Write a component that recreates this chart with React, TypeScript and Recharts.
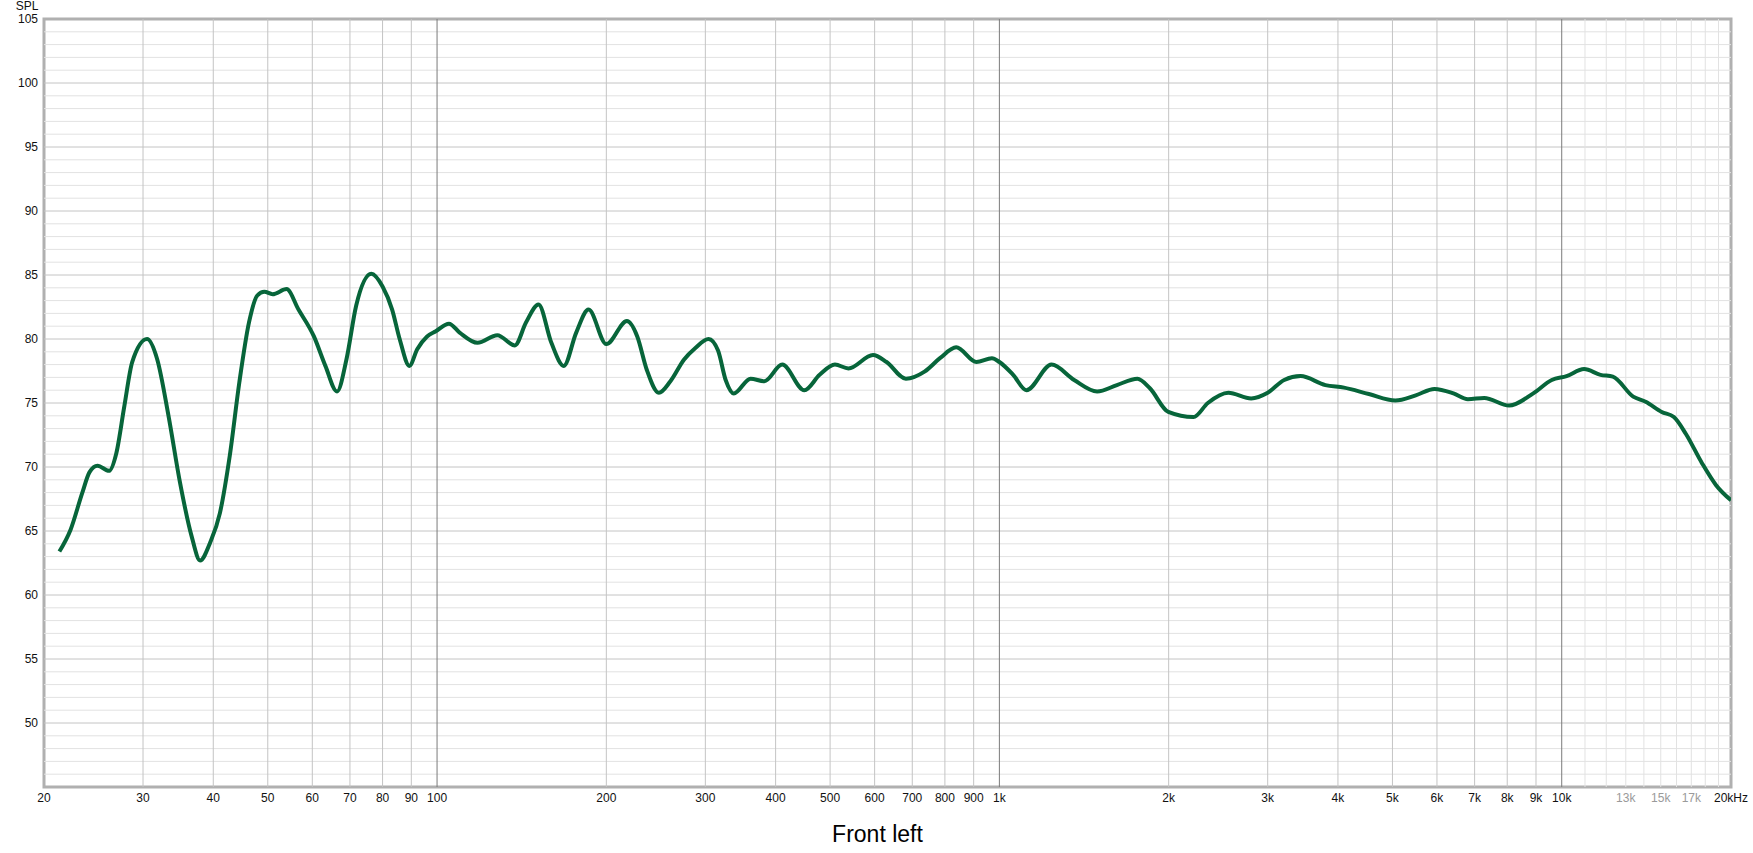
import {
  LineChart,
  Line,
  XAxis,
  YAxis,
  ReferenceLine,
  ReferenceArea,
} from 'recharts';

// measured response (Hz / dB SPL)
const freqHz = [
  21.3, 22.3, 23.4, 24.1, 24.9, 26.1, 26.9, 27.8, 28.7, 30.5, 31.8, 33.3, 34.9,
  36.6, 37.9, 39.5, 41.1, 42.8, 44.5, 46.3, 47.9, 49.3, 51, 54, 56.7, 60.4, 63.3,
  66.4, 69, 71.8, 76.4, 80, 83.2, 85.8, 89.3, 92.2, 96, 99.5, 105, 109.7, 118,
  128, 137.5, 144, 151.5, 159.7, 168, 176.8, 186, 200, 217.6, 227, 236, 248, 260,
  275, 288, 304, 316, 326, 337, 361, 382, 411, 450, 479, 510, 539, 596, 630, 682,
  736, 784, 838, 910, 970, 1000, 1058, 1117, 1238, 1358, 1492, 1618, 1760, 1852,
  1997, 2214, 2348, 2554, 2804, 3000, 3210, 3432, 3800, 4100, 4540, 5060, 5500,
  5940, 6420, 6810, 7280, 8060, 8900, 9600, 10200, 10960, 11720, 12330, 13400,
  14100, 15060, 15830, 16620, 17760, 18800, 20000,
];

const splDb = [
  63.4, 65.1, 68.0, 69.6, 70.1, 69.7, 71.1, 74.8, 78.2, 80.0, 78.4, 74.0, 68.8,
  64.6, 62.7, 64.1, 66.4, 70.9, 76.6, 81.3, 83.4, 83.7, 83.5, 83.9, 82.3, 80.2,
  77.9, 75.9, 78.4, 82.6, 85.1, 84.1, 82.3, 80.0, 77.9, 79.2, 80.2, 80.6, 81.2,
  80.5, 79.7, 80.3, 79.5, 81.3, 82.7, 79.7, 77.9, 80.5, 82.3, 79.6, 81.4, 80.2,
  77.6, 75.8, 76.7, 78.4, 79.3, 80.0, 79.1, 76.8, 75.75, 76.9, 76.7, 78.0, 76.0,
  77.2, 78.0, 77.7, 78.75, 78.2, 76.9, 77.45, 78.5, 79.35, 78.2, 78.5, 78.2, 77.2,
  76.0, 78.0, 76.8, 75.9, 76.4, 76.9, 76.15, 74.3, 73.9, 75.0, 75.8, 75.36, 75.8,
  76.8, 77.1, 76.4, 76.2, 75.7, 75.2, 75.6, 76.1, 75.75, 75.3, 75.4, 74.8, 75.75,
  76.8, 77.1, 77.65, 77.2, 77.06, 75.5, 75.1, 74.3, 73.9, 72.6, 70.3, 68.6, 67.4,
];

const freqTicks = [
  20, 30, 40, 50, 60, 70, 80, 90, 100, 200, 300, 400, 500, 600, 700, 800, 900,
  1000, 2000, 3000, 4000, 5000, 6000, 7000, 8000, 9000, 10000, 13000, 15000,
  17000, 20000,
];
const freqTickLabels = [
  '20', '30', '40', '50', '60', '70', '80', '90', '100', '200', '300', '400',
  '500', '600', '700', '800', '900', '1k', '2k', '3k', '4k', '5k', '6k', '7k',
  '8k', '9k', '10k', '13k', '15k', '17k', '20kHz',
];
const fadedTicks = [13000, 15000, 17000];

const splTicks = [50, 55, 60, 65, 70, 75, 80, 85, 90, 95, 100, 105];

// grid
const gridFreqMajor = [
  30, 40, 50, 60, 70, 80, 90, 200, 300, 400, 500, 600, 700, 800, 900, 2000, 3000,
  4000, 5000, 6000, 7000, 8000, 9000,
];
const gridFreqDecade = [100, 1000, 10000];
const gridFreqFine = [11000, 12000, 13000, 14000, 15000, 16000, 17000, 18000, 19000];
const gridSplMajor = [50, 55, 60, 65, 70, 75, 80, 85, 90, 95, 100];
const gridSplMinor = [
  46, 47, 48, 49, 51, 52, 53, 54, 56, 57, 58, 59, 61, 62, 63, 64, 66, 67, 68, 69,
  71, 72, 73, 74, 76, 77, 78, 79, 81, 82, 83, 84, 86, 87, 88, 89, 91, 92, 93, 94,
  96, 97, 98, 99, 101, 102, 103, 104,
];

const data = freqHz.map((f, i) => ({ f, spl: splDb[i] }));

const FONT = '"Liberation Sans", Arial, sans-serif';

const FreqTick = (props: any) => {
  const { x, y, payload } = props;
  const v = payload.value;
  const idx = freqTicks.indexOf(v);
  return (
    <text
      x={x}
      y={y}
      dy={11}
      textAnchor='middle'
      fontSize={12}
      fontFamily={FONT}
      fill={fadedTicks.includes(v) ? '#9a9a9a' : '#111'}
    >
      {idx >= 0 ? freqTickLabels[idx] : v}
    </text>
  );
};

const App = () => {
  return (
    <div style={{ position: 'absolute', left: 0, top: 0, background: '#fff' }}>
      <LineChart
        width={1753}
        height={853}
        data={data}
        margin={{ top: 19, right: 22, bottom: 0, left: 0 }}
      >
        {/* horizontal grid */}
        {gridSplMinor.map((v) => (
          <ReferenceLine key={'hm' + v} y={v} stroke='#e2e2e2' strokeWidth={1} />
        ))}
        {gridSplMajor.map((v) => (
          <ReferenceLine key={'hM' + v} y={v} stroke='#c4c4c4' strokeWidth={1} />
        ))}
        {/* vertical grid */}
        {gridFreqFine.map((v) => (
          <ReferenceLine key={'vf' + v} x={v} stroke='#e2e2e2' strokeWidth={1} />
        ))}
        {gridFreqMajor.map((v) => (
          <ReferenceLine key={'vM' + v} x={v} stroke='#c4c4c4' strokeWidth={1} />
        ))}
        {gridFreqDecade.map((v) => (
          <ReferenceLine key={'vd' + v} x={v} stroke='#7a7a7a' strokeWidth={1} />
        ))}

        <XAxis
          dataKey='f'
          type='number'
          scale='log'
          domain={[20, 20000]}
          allowDataOverflow
          ticks={freqTicks}
          interval={0}
          tick={<FreqTick />}
          axisLine={false}
          tickLine={false}
          tickSize={0}
          tickMargin={4}
          height={66}
          label={{
            value: 'Front left',
            position: 'insideBottom',
            offset: 11,
            dx: -10,
            fontSize: 23,
            fontFamily: FONT,
            fill: '#000',
          }}
        />
        <YAxis
          type='number'
          domain={[45, 105]}
          allowDataOverflow
          ticks={splTicks}
          interval={0}
          width={44}
          axisLine={false}
          tickLine={false}
          tickSize={0}
          tickMargin={6}
          tick={{ fontSize: 12, fontFamily: FONT, fill: '#111' }}
          label={{
            value: 'SPL',
            position: 'top',
            offset: 9,
            dx: 5,
            fontSize: 12,
            fontFamily: FONT,
            fill: '#111',
          }}
        />

        <Line
          type='monotone'
          dataKey='spl'
          stroke='#07653a'
          strokeWidth={4}
          dot={false}
          isAnimationActive={false}
        />

        {/* plot frame */}
        <ReferenceArea
          x1={20}
          x2={20000}
          y1={45}
          y2={105}
          fill='none'
          fillOpacity={0}
          stroke='#b0b0b0'
          strokeWidth={3}
        />
      </LineChart>
    </div>
  );
};

export default App;
